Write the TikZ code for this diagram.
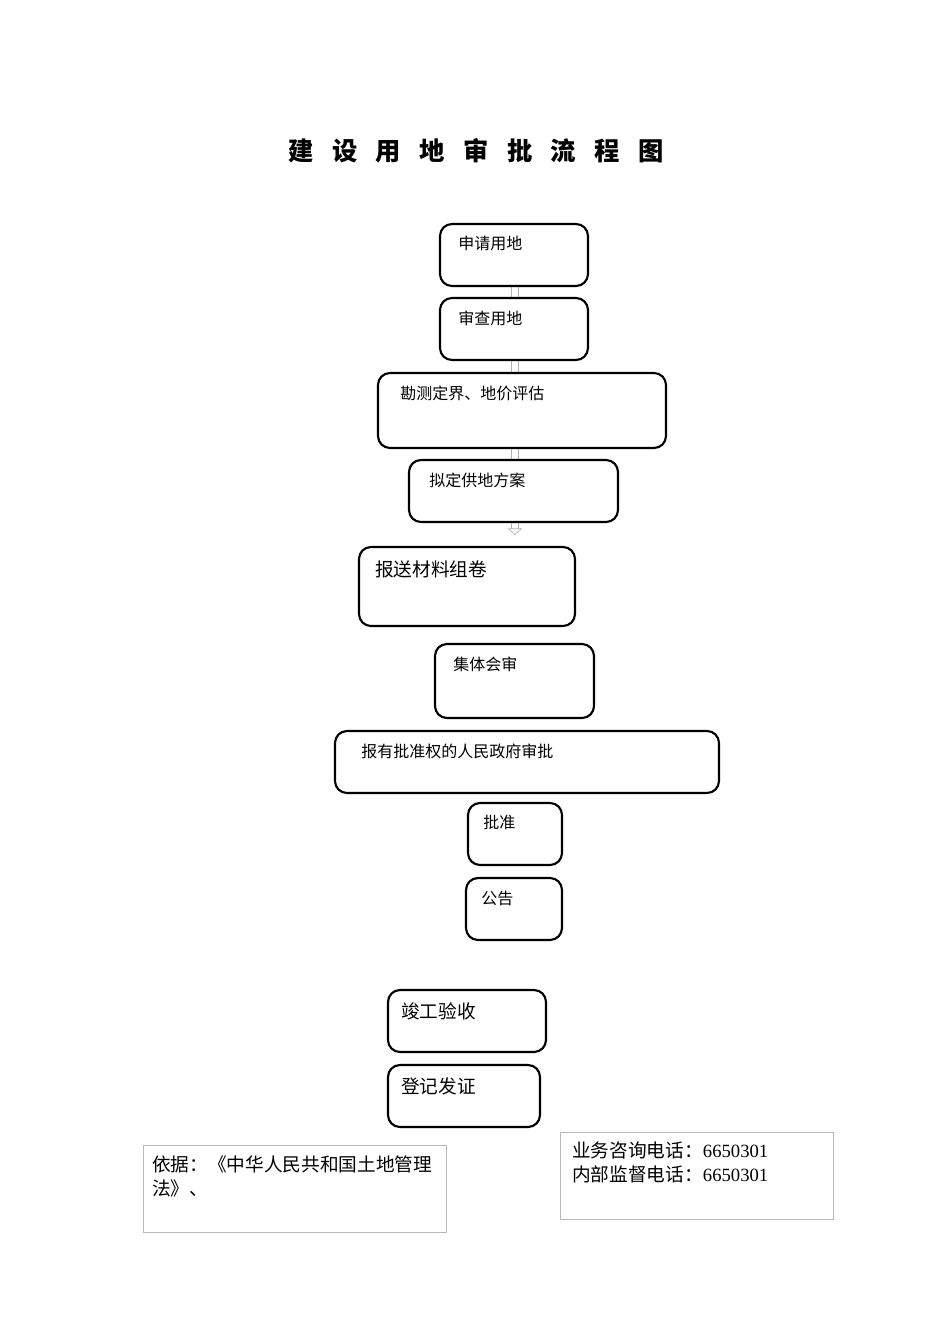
\documentclass[tikz,border=0pt]{standalone}
\usepackage{fontspec}
\setmainfont{Liberation Serif}
\newfontfamily\cjk{Noto Sans CJK SC}
\usetikzlibrary{fit,arrows.meta,calc,backgrounds}
\begin{document}
\begin{tikzpicture}[x=0.75pt,y=-0.75pt,
  box/.style={draw=black, fill=white, line width=1.6pt, rounded corners=9pt, inner sep=0pt},
  gbox/.style={draw=black!28, line width=0.75pt, inner sep=0pt},
  st/.style={font=\cjk\fontsize{12}{14}\selectfont, inner sep=0pt, anchor=west},
  rt/.style={font=\cjk\fontsize{14}{18}\selectfont, inner sep=0pt, anchor=west},
  garrow/.style={draw=black!30, line width=0.5pt, double=white, double distance=5pt,
                 -{Triangle[open,length=5pt,width=11pt]}}]
\useasboundingbox (0,0) rectangle (950,1344);

\node[font=\cjk\bfseries\fontsize{19}{22}\selectfont, inner sep=0pt] (title) at (476,151)
  {建\hspace{13.8pt}设\hspace{13.8pt}用\hspace{13.8pt}地\hspace{13.8pt}审\hspace{13.8pt}批\hspace{13.8pt}流\hspace{13.8pt}程\hspace{13.8pt}图};

% boxes
\node[box, fit={(440,224)(588,286)}] (b1) {};
\node[st] (t1) at (458,243) {申请用地};
\node[box, fit={(440,298)(588,360)}] (b2) {};
\node[st] (t2) at (458,318) {审查用地};
\node[box, fit={(378,373)(666,448)}] (b3) {};
\node[st] (t3) at (400,393) {勘测定界、地价评估};
\node[box, fit={(409,460)(618,522)}] (b4) {};
\node[st] (t4) at (429,480) {拟定供地方案};
\node[box, fit={(359,547)(575,626)}] (b5) {};
\node[rt] (t5) at (375,569) {报送材料组卷};
\node[box, fit={(435,644)(594,718)}] (b6) {};
\node[st] (t6) at (453,664) {集体会审};
\node[box, fit={(335,731)(719,793)}] (b7) {};
\node[st] (t7) at (361,751) {报有批准权的人民政府审批};
\node[box, fit={(468,803)(562,865)}] (b8) {};
\node[st] (t8) at (483,822) {批准};
\node[box, fit={(466,878)(562,940)}] (b9) {};
\node[st] (t9) at (481,898) {公告};
\node[box, fit={(388,990)(546,1052)}] (b10) {};
\node[rt] (t10) at (401,1011) {竣工验收};
\node[box, fit={(388,1065)(540,1127)}] (b11) {};
\node[rt] (t11) at (401,1086) {登记发证};

\node[gbox, fit={(143,1145)(446,1232)}] (basis) {};
\node[rt, anchor=north west, align=left, font=\cjk\fontsize{14}{18}\selectfont] (tbasis) at (152,1155)
  {依据：《中华人民共和国土地管理\\法》、};
\node[gbox, fit={(560,1132)(833,1219)}] (phone) {};
\node[rt, anchor=north west, align=left, font=\cjk\fontsize{14}{17.3}\selectfont] (tphone) at (572,1142)
  {业务咨询电话：{\rmfamily 6650301}\\内部监督电话：{\rmfamily 6650301}};

% small hollow arrows, partly hidden behind the next box
\coordinate (a1) at (515,286);
\coordinate (a2) at (515,360);
\coordinate (a3) at (515,448);
\coordinate (a4) at (515,522);
\coordinate (a4end) at (515,535);
\begin{pgfonlayer}{background}
\draw[garrow] (a1) -- ($(a1 |- b2.north)+(0,9)$);
\draw[garrow] (a2) -- ($(a2 |- b3.north)+(0,9)$);
\draw[garrow] (a3) -- ($(a3 |- b4.north)+(0,9)$);
\draw[garrow] (a4) -- (a4end);
\end{pgfonlayer}
\end{tikzpicture}
\end{document}
